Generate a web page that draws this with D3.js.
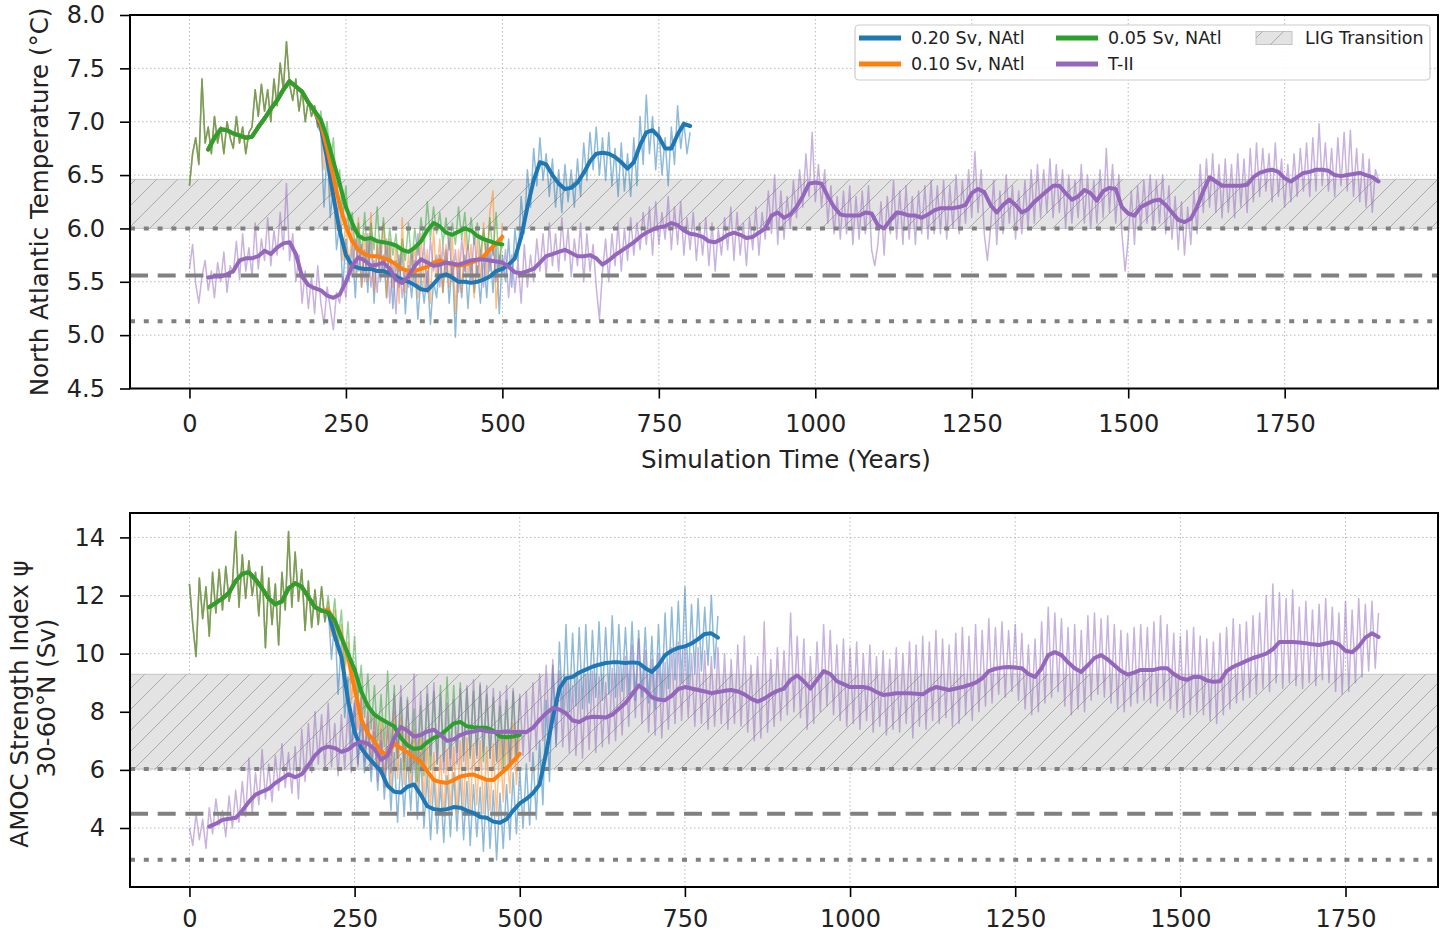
<!DOCTYPE html>
<html>
<head>
<meta charset="utf-8">
<script src="https://cdn.jsdelivr.net/npm/d3@7"></script>
<style>
  body { margin: 0; background: #fff; }
  svg { display: block; font-family: "DejaVu Sans", sans-serif; }
</style>
</head>
<body>
<svg id="chart" width="1448" height="934"></svg>
<script>
// run names and colours
const runNames = ["0.20 Sv, NAtl", "0.10 Sv, NAtl", "0.05 Sv, NAtl", "T-II"];
const runColors = ["#1f77b4", "#ff7f0e", "#2ca02c", "#9467bd"];

const xTicks = [0, 250, 500, 750, 1000, 1250, 1500, 1750];
const tempTicks = [4.5, 5.0, 5.5, 6.0, 6.5, 7.0, 7.5, 8.0];
const amocTicks = [4, 6, 8, 10, 12, 14];

// raw series: one value every 5 years; smoothed: every 10 years from year 30
const rawStep = 5, smoothStep = 10, smoothStart = 30;

// threshold lines and LIG band
const tempRefs = [6.0, 5.56, 5.13];
const amocRefs = [6.03, 4.49, 2.91];
const refDash = ["5,8.8", "18,9.7", "5,8.8"];
const tempBand = [6.0, 6.46];
const amocBand = [6.03, 9.29];

// ---- North Atlantic temperature ----
// spin-up shared by the three hosing runs (years 0-205)
const spinTempRaw = [
  6.40, 6.70, 6.85, 6.60, 7.40, 6.80, 6.95, 6.70, 7.05, 6.80,
  6.95, 6.70, 7.00, 6.85, 6.75, 7.05, 6.80, 6.95, 6.70, 6.90,
  6.95, 7.30, 7.05, 7.35, 7.10, 7.30, 7.00, 7.40, 7.15, 7.55,
  7.30, 7.75, 7.35, 7.20, 7.40, 7.10, 7.30, 7.00, 7.20, 7.05,
  7.15, 6.95];
const spinTempSmooth = [6.74, 6.85, 6.93, 6.92, 6.89, 6.87, 6.85, 6.86, 6.95, 7.03,
  7.12, 7.20, 7.30, 7.38, 7.33, 7.28, 7.18, 7.10];

const blueTempRaw = [
  6.90, 6.20, 6.75, 6.10, 6.40, 5.80, 6.05, 5.45, 5.90, 5.50,
  5.85, 5.35, 5.90, 5.45, 5.80, 5.40, 5.95, 5.30, 5.85, 5.50,
  5.75, 5.35, 5.85, 5.25, 5.70, 5.45, 5.80, 5.20, 5.65, 5.35,
  5.70, 5.15, 5.55, 5.30, 5.60, 5.10, 5.50, 5.35, 5.75, 5.40,
  5.80, 5.30, 5.70, 4.98, 5.65, 5.35, 5.75, 5.25, 5.70, 5.40,
  5.65, 5.30, 5.75, 5.35, 5.80, 5.40, 5.85, 5.20, 5.75, 5.50,
  5.90, 5.45, 6.00, 5.70, 6.30, 5.95, 6.55, 6.20, 6.75, 6.40,
  6.85, 6.45, 6.70, 6.30, 6.65, 6.20, 6.55, 6.15, 6.60, 6.25,
  6.55, 6.20, 6.65, 6.30, 6.80, 6.45, 6.90, 6.55, 6.95, 6.50,
  6.85, 6.45, 6.90, 6.40, 6.75, 6.30, 6.80, 6.35, 6.70, 6.30,
  6.85, 6.40, 7.05, 6.60, 7.25, 6.70, 7.05, 6.55, 6.95, 6.50,
  6.85, 6.40, 6.95, 6.60, 7.15, 6.75, 7.00, 6.70, 6.90];
const blueTempSmooth = [
  6.95, 6.65, 6.30, 5.98, 5.75, 5.65, 5.63, 5.62, 5.62, 5.60,
  5.60, 5.58, 5.55, 5.52, 5.50, 5.47, 5.43, 5.42, 5.48, 5.55,
  5.57, 5.54, 5.50, 5.50, 5.49, 5.50, 5.52, 5.55, 5.60, 5.62,
  5.66, 5.72, 5.92, 6.20, 6.45, 6.62, 6.60, 6.50, 6.42, 6.37,
  6.38, 6.43, 6.52, 6.63, 6.70, 6.71, 6.70, 6.67, 6.62, 6.56,
  6.62, 6.78, 6.90, 6.92, 6.86, 6.75, 6.75, 6.88, 6.98, 6.96];

const orangeTempRaw = [
  6.95, 6.55, 6.85, 6.30, 6.60, 6.00, 6.30, 5.70, 6.10, 5.60,
  6.05, 5.55, 6.10, 5.45, 5.95, 5.50, 6.15, 5.40, 5.90, 5.55,
  6.05, 5.35, 5.90, 5.45, 5.85, 5.30, 6.10, 5.40, 5.75, 5.50,
  5.85, 5.35, 5.95, 5.45, 5.80, 5.30, 6.00, 5.50, 5.90, 5.40,
  5.85, 5.45, 5.95, 5.20, 5.80, 5.40, 6.00, 5.55, 5.85, 5.35,
  5.90, 5.50, 6.05, 5.55, 6.15, 6.35, 5.25, 5.65, 6.05];
const orangeTempSmooth = [
  6.98, 6.75, 6.48, 6.22, 6.02, 5.88, 5.80, 5.76, 5.74, 5.74,
  5.72, 5.70, 5.66, 5.62, 5.60, 5.60, 5.62, 5.64, 5.68, 5.70,
  5.68, 5.66, 5.65, 5.66, 5.68, 5.70, 5.74, 5.80, 5.86, 5.92];

const greenTempRaw = [
  7.10, 6.80, 7.00, 6.60, 6.85, 6.35, 6.55, 6.10, 6.40, 5.95,
  6.15, 5.80, 6.05, 5.75, 6.15, 5.70, 6.05, 5.80, 6.20, 5.75,
  6.10, 5.70, 6.00, 5.75, 5.95, 5.60, 5.90, 5.70, 6.05, 5.65,
  6.00, 5.75, 6.10, 5.85, 6.25, 5.90, 6.20, 5.95, 6.15, 5.85,
  6.10, 5.80, 6.05, 5.85, 6.20, 5.90, 6.15, 5.80, 6.10, 5.85,
  6.05, 5.75, 6.00, 5.70, 6.10, 5.75, 6.15, 5.60, 5.95];
const greenTempSmooth = [
  7.02, 6.85, 6.63, 6.42, 6.20, 6.05, 5.93, 5.90, 5.91, 5.88,
  5.87, 5.86, 5.84, 5.80, 5.78, 5.82, 5.88, 5.98, 6.05, 6.02,
  5.96, 5.94, 5.97, 6.00, 5.98, 5.93, 5.90, 5.88, 5.86, 5.85];

// T-II run (years 0-1900)
const tiiTempRaw = [
  5.62, 5.85, 5.48, 5.30, 5.55, 5.70, 5.42, 5.60, 5.35, 5.68,
  5.50, 5.78, 5.40, 5.65, 5.58, 5.88, 5.52, 5.95, 5.60, 5.82,
  5.55, 6.05, 5.62, 5.90, 5.70, 6.10, 5.65, 5.98, 5.75, 6.15,
  5.80, 6.42, 5.70, 5.95, 5.50, 5.75, 5.30, 5.60, 5.25, 5.55,
  5.20, 5.65, 5.30, 5.10, 5.45, 5.25, 5.05, 5.40, 5.30, 5.55,
  5.35, 5.75, 5.55, 5.90, 5.60, 5.85, 5.50, 5.95, 5.45, 5.70,
  5.40, 5.85, 5.55, 5.90, 5.30, 5.65, 5.20, 5.75, 5.35, 5.60,
  5.45, 5.80, 5.50, 5.95, 5.55, 5.85, 5.40, 5.90, 5.60, 5.75,
  5.45, 5.85, 5.55, 5.95, 5.50, 5.80, 5.40, 5.90, 5.60, 5.85,
  5.50, 5.95, 5.55, 5.80, 5.45, 5.90, 5.60, 5.85, 5.50, 5.75,
  5.55, 5.80, 5.35, 5.75, 5.40, 5.70, 5.30, 5.85, 5.45, 5.75,
  5.50, 5.90, 5.60, 5.95, 5.55, 6.05, 5.65, 5.95, 5.60, 6.10,
  5.70, 6.00, 5.55, 5.90, 5.65, 6.05, 5.50, 5.95, 5.60, 5.85,
  5.45, 5.15, 5.60, 5.90, 5.50, 5.95, 5.65, 6.05, 5.60, 6.00,
  5.70, 6.10, 5.75, 6.05, 5.80, 6.15, 5.85, 6.20, 5.75, 6.25,
  5.85, 6.15, 5.90, 6.30, 5.80, 6.20, 5.85, 6.25, 5.75, 6.10,
  5.80, 6.15, 5.70, 6.05, 5.75, 6.10, 5.65, 6.05, 5.60, 6.00,
  5.75, 6.10, 5.80, 6.20, 5.70, 6.15, 5.75, 6.05, 5.65, 6.10,
  5.80, 6.20, 5.75, 6.15, 5.90, 6.35, 5.95, 6.50, 5.85, 6.35,
  5.90, 6.30, 6.00, 6.45, 6.10, 6.55, 6.20, 6.70, 6.30, 6.90,
  6.25, 6.60, 6.20, 6.55, 6.05, 6.40, 5.95, 6.30, 5.90, 6.35,
  5.95, 6.40, 5.85, 6.30, 5.90, 6.35, 5.95, 6.40, 5.80, 5.65,
  5.85, 6.25, 5.75, 6.30, 5.95, 6.45, 5.90, 6.35, 5.85, 6.40,
  5.90, 6.30, 5.85, 6.35, 5.95, 6.40, 5.90, 6.45, 5.95, 6.40,
  5.95, 6.45, 5.90, 6.40, 6.00, 6.50, 5.95, 6.45, 6.05, 6.55,
  6.10, 6.72, 6.15, 6.55, 5.95, 5.70, 6.00, 6.45, 5.85, 6.35,
  5.95, 6.50, 6.05, 6.40, 5.90, 6.35, 5.95, 6.45, 6.00, 6.55,
  6.05, 6.60, 6.10, 6.55, 6.15, 6.65, 6.10, 6.60, 6.15, 6.55,
  6.00, 6.50, 6.05, 6.45, 6.10, 6.60, 6.05, 6.50, 6.00, 6.45,
  6.05, 6.55, 6.10, 6.75, 6.15, 6.60, 6.05, 6.50, 5.95, 5.60,
  5.90, 6.35, 5.85, 6.40, 6.00, 6.45, 6.05, 6.50, 6.00, 6.45,
  6.05, 6.50, 5.95, 6.40, 5.90, 6.30, 5.80, 6.25, 5.75, 6.20,
  5.85, 6.35, 5.95, 6.60, 6.15, 6.65, 6.20, 6.70, 6.15, 6.60,
  6.10, 6.65, 6.15, 6.60, 6.10, 6.70, 6.20, 6.65, 6.15, 6.75,
  6.25, 6.80, 6.30, 6.75, 6.35, 6.70, 6.25, 6.80, 6.30, 6.65,
  6.20, 6.60, 6.25, 6.70, 6.30, 6.75, 6.35, 6.80, 6.30, 6.85,
  6.35, 6.98, 6.40, 6.80, 6.35, 6.75, 6.30, 6.85, 6.40, 6.90,
  6.35, 6.92, 6.30, 6.75, 6.25, 6.70, 6.20, 6.65, 6.15, 6.55,
  6.45];
const tiiTempSmooth = [
  5.54, 5.55, 5.55, 5.57, 5.60, 5.70, 5.72, 5.72, 5.74, 5.79,
  5.76, 5.82, 5.86, 5.87, 5.76, 5.55, 5.47, 5.44, 5.42, 5.37,
  5.35, 5.38, 5.50, 5.65, 5.73, 5.70, 5.65, 5.66, 5.68, 5.62,
  5.52, 5.49, 5.55, 5.65, 5.71, 5.68, 5.65, 5.66, 5.68, 5.67,
  5.66, 5.68, 5.70, 5.71, 5.71, 5.70, 5.69, 5.68, 5.64, 5.59,
  5.58, 5.60, 5.62, 5.68, 5.74, 5.76, 5.78, 5.80, 5.77, 5.74,
  5.74, 5.75, 5.72, 5.66, 5.70, 5.75, 5.79, 5.83, 5.87, 5.92,
  5.96, 5.99, 6.01, 6.02, 6.05, 6.03, 5.98, 5.95, 5.94, 5.92,
  5.88, 5.87, 5.90, 5.94, 5.96, 5.94, 5.91, 5.92, 5.96, 6.00,
  6.12, 6.15, 6.10, 6.13, 6.20, 6.30, 6.42, 6.43, 6.42, 6.30,
  6.20, 6.13, 6.12, 6.12, 6.12, 6.15, 6.14, 6.03, 6.00, 6.08,
  6.15, 6.14, 6.12, 6.12, 6.10, 6.13, 6.17, 6.19, 6.19, 6.19,
  6.20, 6.22, 6.33, 6.37, 6.34, 6.22, 6.15, 6.22, 6.27, 6.22,
  6.15, 6.18, 6.25, 6.30, 6.35, 6.40, 6.40, 6.33, 6.27, 6.30,
  6.36, 6.33, 6.26, 6.35, 6.38, 6.37, 6.20, 6.14, 6.12, 6.20,
  6.23, 6.26, 6.27, 6.22, 6.15, 6.08, 6.06, 6.09, 6.20, 6.35,
  6.48, 6.44, 6.40, 6.40, 6.40, 6.40, 6.41, 6.48, 6.52, 6.54,
  6.55, 6.53, 6.47, 6.44, 6.48, 6.52, 6.53, 6.55, 6.55, 6.54,
  6.50, 6.49, 6.50, 6.51, 6.52, 6.50, 6.48, 6.44];

// ---- AMOC strength index ----
const spinAmocRaw = [
  12.4, 11.0, 9.9, 12.6, 11.2, 12.3, 10.6, 12.8, 11.4, 12.9,
  11.5, 13.0, 11.8, 12.4, 14.2, 11.6, 13.4, 11.9, 13.2, 12.0,
  12.8, 11.3, 13.0, 10.2, 12.6, 11.0, 12.4, 10.3, 12.8, 11.5,
  14.2, 11.6, 13.5, 11.8, 12.9, 10.8, 12.5, 10.9, 12.2, 11.0,
  12.3, 11.1];
const spinAmocSmooth = [11.60, 11.75, 11.90, 12.10, 12.50, 12.75, 12.80, 12.55, 12.25, 11.90,
  11.70, 11.80, 12.25, 12.42, 12.30, 11.95, 11.60, 11.48];

const blueAmocRaw = [
  11.6, 9.8, 11.2, 8.6, 10.4, 7.8, 9.2, 6.7, 8.3, 6.2,
  7.8, 5.9, 7.6, 5.6, 7.3, 5.3, 7.0, 5.0, 6.8, 4.6,
  6.6, 4.2, 6.4, 4.4, 6.5, 4.6, 6.8, 4.3, 6.6, 4.0,
  5.9, 3.6, 5.7, 3.8, 5.5, 3.5, 5.8, 3.7, 5.9, 3.9,
  5.8, 3.6, 5.6, 3.4, 5.5, 3.7, 5.4, 3.2, 5.6, 3.3,
  5.3, 2.9, 5.2, 3.3, 5.5, 3.6, 5.9, 3.8, 6.0, 4.0,
  6.2, 4.1, 6.6, 4.3, 7.0, 4.8, 8.4, 5.6, 9.6, 6.8,
  10.4, 7.9, 11.0, 8.0, 10.7, 8.2, 10.9, 8.1, 11.0, 8.3,
  10.8, 8.5, 11.1, 8.4, 10.9, 8.6, 11.3, 8.5, 11.0, 8.7,
  10.9, 8.6, 11.1, 8.4, 10.8, 8.5, 10.9, 8.3, 10.6, 8.1,
  11.0, 8.4, 11.4, 8.8, 11.6, 9.1, 11.8, 9.0, 12.3, 8.9,
  11.7, 9.3, 11.9, 9.4, 11.6, 9.6, 12.0, 9.5, 11.3];
const blueAmocSmooth = [
  11.45, 10.60, 9.90, 8.40, 7.30, 6.75, 6.45, 6.20, 5.95, 5.45,
  5.25, 5.22, 5.42, 5.50, 5.15, 4.75, 4.65, 4.62, 4.65, 4.72,
  4.70, 4.60, 4.52, 4.38, 4.35, 4.22, 4.18, 4.30, 4.60, 4.85,
  5.00, 5.20, 5.50, 6.60, 7.80, 8.80, 9.15, 9.20, 9.35, 9.45,
  9.55, 9.62, 9.68, 9.70, 9.70, 9.68, 9.70, 9.68, 9.50, 9.37,
  9.60, 9.95, 10.10, 10.20, 10.25, 10.35, 10.50, 10.68, 10.70, 10.55];

const orangeAmocRaw = [
  11.8, 10.6, 11.5, 10.0, 11.0, 9.2, 10.4, 8.3, 9.6, 7.4,
  8.6, 6.5, 8.0, 6.2, 7.9, 6.0, 7.8, 5.6, 7.6, 5.4,
  8.0, 5.7, 7.8, 5.5, 7.5, 5.4, 7.4, 5.2, 7.3, 5.0,
  6.9, 4.8, 6.6, 4.5, 6.5, 4.4, 6.7, 4.6, 6.8, 4.5,
  7.0, 4.7, 7.1, 4.6, 6.9, 4.8, 7.0, 4.5, 6.8, 4.6,
  6.9, 4.4, 7.2, 4.9, 7.3, 5.2, 7.6, 5.5, 7.4];
const orangeAmocSmooth = [
  11.50, 11.10, 10.60, 9.90, 8.80, 7.75, 7.25, 7.00, 6.60, 6.55,
  6.90, 6.75, 6.60, 6.42, 6.30, 5.95, 5.65, 5.58, 5.55, 5.65,
  5.77, 5.82, 5.84, 5.75, 5.66, 5.65, 5.85, 6.05, 6.30, 6.55];

const greenAmocRaw = [
  12.0, 10.8, 11.9, 10.4, 11.5, 9.6, 11.1, 9.0, 10.6, 8.4,
  9.6, 7.8, 9.3, 7.4, 8.9, 7.0, 8.6, 6.8, 9.4, 6.5,
  8.9, 6.4, 8.5, 6.0, 8.4, 5.9, 8.1, 5.6, 8.2, 5.8,
  8.6, 6.0, 8.7, 6.2, 8.9, 6.3, 9.2, 6.4, 8.9, 6.6,
  9.0, 6.5, 8.8, 6.4, 8.7, 6.5, 8.9, 6.3, 8.6, 6.4,
  8.5, 6.3, 8.2, 6.1, 8.4, 6.2, 8.7, 6.3, 8.5];
const greenAmocSmooth = [
  11.42, 11.15, 10.55, 10.00, 9.45, 8.70, 8.20, 7.90, 7.75, 7.62,
  7.50, 7.10, 6.85, 6.72, 6.75, 6.95, 7.10, 7.20, 7.40, 7.60,
  7.65, 7.50, 7.47, 7.45, 7.45, 7.35, 7.15, 7.12, 7.15, 7.20];

const tiiAmocRaw = [
  4.0, 3.4, 4.5, 3.6, 4.3, 3.3, 4.7, 3.8, 5.0, 4.1,
  4.6, 3.7, 5.1, 4.0, 5.3, 4.2, 5.6, 4.4, 6.4, 4.5,
  5.9, 4.8, 6.7, 5.0, 6.2, 4.9, 6.5, 5.3, 6.9, 5.4,
  6.6, 5.2, 6.8, 5.0, 7.4, 5.6, 7.6, 5.9, 8.0, 6.2,
  7.9, 6.0, 8.3, 6.1, 7.6, 5.8, 7.9, 6.0, 8.2, 5.9,
  8.4, 6.1, 8.5, 6.3, 8.1, 6.0, 7.9, 5.6, 7.4, 5.4,
  7.6, 5.9, 8.6, 6.4, 8.9, 6.3, 8.5, 6.0, 9.3, 6.2,
  8.7, 6.3, 8.9, 6.5, 9.0, 6.2, 8.6, 5.9, 8.3, 6.0,
  8.4, 6.2, 8.8, 6.3, 8.9, 6.5, 9.1, 6.4, 9.0, 6.6,
  8.9, 6.4, 8.8, 6.3, 8.7, 6.5, 8.9, 6.2, 8.8, 6.4,
  8.6, 6.5, 8.7, 6.3, 9.0, 6.7, 9.3, 7.0, 9.6, 7.1,
  9.8, 6.9, 9.4, 6.8, 9.2, 6.6, 8.9, 6.5, 9.1, 6.4,
  9.3, 6.7, 9.4, 6.6, 9.2, 6.8, 9.0, 6.9, 9.5, 7.0,
  9.6, 7.2, 9.9, 7.5, 10.3, 7.8, 10.5, 7.6, 10.1, 7.3,
  9.8, 7.2, 10.0, 7.1, 9.7, 7.4, 10.2, 7.6, 10.4, 7.7,
  10.3, 7.8, 10.0, 7.5, 10.2, 7.6, 10.1, 7.4, 9.9, 7.5,
  10.2, 7.6, 10.0, 7.4, 9.8, 7.6, 10.3, 7.5, 10.6, 7.3,
  9.6, 7.0, 9.9, 7.1, 11.1, 7.3, 9.8, 7.5, 10.2, 7.7,
  10.1, 7.9, 11.4, 8.0, 10.6, 7.8, 10.5, 7.4, 9.9, 7.6,
  10.4, 8.0, 11.0, 8.2, 10.8, 7.9, 10.3, 7.7, 10.5, 7.5,
  10.2, 7.6, 10.4, 7.4, 10.0, 7.7, 10.3, 7.3, 9.9, 7.5,
  10.1, 7.2, 9.8, 7.4, 10.2, 7.3, 10.0, 7.6, 10.4, 7.1,
  10.3, 7.5, 10.6, 7.4, 10.4, 7.7, 10.8, 7.6, 10.5, 7.8,
  10.3, 7.5, 10.7, 7.6, 10.9, 7.9, 10.6, 7.7, 11.0, 8.0,
  10.8, 8.2, 11.2, 8.3, 10.9, 8.6, 11.1, 8.5, 10.8, 8.7,
  11.0, 8.4, 10.7, 8.1, 10.3, 7.9, 10.5, 8.0, 11.1, 8.3,
  11.6, 8.5, 11.4, 8.7, 11.2, 8.2, 10.9, 7.9, 11.0, 8.1,
  10.8, 8.0, 11.3, 8.4, 11.4, 8.6, 11.2, 8.5, 11.3, 8.3,
  11.0, 8.1, 10.8, 8.0, 10.7, 8.2, 10.9, 8.3, 11.0, 8.4,
  10.9, 8.3, 11.1, 8.2, 11.3, 8.4, 11.0, 8.1, 10.7, 8.0,
  10.6, 7.8, 10.8, 7.9, 10.9, 8.0, 10.6, 7.9, 10.5, 7.7,
  10.4, 7.6, 10.7, 7.9, 10.9, 8.1, 11.2, 8.3, 11.0, 8.4,
  11.1, 8.5, 11.3, 8.6, 11.4, 8.8, 12.0, 8.7, 12.4, 9.0,
  12.1, 8.8, 11.9, 9.0, 12.2, 8.9, 11.6, 8.8, 11.8, 9.0,
  11.5, 8.9, 11.7, 9.1, 11.9, 9.0, 11.6, 8.7, 11.4, 8.6,
  11.8, 8.7, 11.5, 9.0, 11.9, 9.2, 11.7, 9.4, 11.8, 9.5,
  11.4];
const tiiAmocSmooth = [
  4.05, 4.15, 4.28, 4.32, 4.35, 4.60, 4.90, 5.15, 5.25, 5.35,
  5.55, 5.70, 5.85, 5.75, 5.85, 6.15, 6.50, 6.72, 6.80, 6.75,
  6.62, 6.70, 6.88, 6.97, 6.90, 6.72, 6.35, 6.50, 7.10, 7.48,
  7.35, 7.15, 7.20, 7.32, 7.38, 7.20, 7.00, 7.05, 7.20, 7.28,
  7.32, 7.38, 7.33, 7.30, 7.30, 7.32, 7.30, 7.30, 7.30, 7.45,
  7.72, 7.95, 8.13, 8.08, 7.95, 7.70, 7.65, 7.78, 7.83, 7.82,
  7.80, 7.90, 8.10, 8.30, 8.60, 8.90, 8.75, 8.50, 8.42, 8.40,
  8.55, 8.78, 8.85, 8.80, 8.75, 8.70, 8.64, 8.68, 8.72, 8.75,
  8.70, 8.60, 8.45, 8.35, 8.45, 8.60, 8.72, 8.80, 9.10, 9.25,
  9.05, 8.80, 9.10, 9.40, 9.30, 9.05, 8.95, 8.85, 8.85, 8.85,
  8.80, 8.68, 8.58, 8.60, 8.64, 8.64, 8.64, 8.62, 8.60, 8.75,
  8.85, 8.80, 8.75, 8.80, 8.85, 8.92, 9.00, 9.15, 9.40, 9.48,
  9.52, 9.54, 9.52, 9.50, 9.30, 9.20, 9.50, 9.95, 10.05, 9.95,
  9.70, 9.50, 9.37, 9.60, 9.85, 9.95, 9.80, 9.60, 9.40, 9.28,
  9.35, 9.44, 9.44, 9.44, 9.50, 9.50, 9.30, 9.16, 9.10, 9.20,
  9.20, 9.08, 9.03, 9.05, 9.40, 9.55, 9.65, 9.75, 9.85, 9.92,
  10.00, 10.15, 10.40, 10.40, 10.40, 10.38, 10.36, 10.32, 10.30, 10.35,
  10.40, 10.32, 10.10, 10.05, 10.25, 10.55, 10.70, 10.57];

// ---- helpers to pair values with years ----
const rawPts = (vals, start) => vals.map((v, i) => [start + i * rawStep, v]);
const smoothPts = (vals, start) => vals.map((v, i) => [start + i * smoothStep, v]);
// forced runs = shared spin-up followed by the run's own part
const forced = (spinRaw, spinSm, runRaw, runSm) => ({
  raw: rawPts(spinRaw.concat(runRaw), 0),
  smooth: smoothPts(spinSm.concat(runSm), smoothStart)
});

const tempSeries = [
  forced(spinTempRaw, spinTempSmooth, blueTempRaw, blueTempSmooth),
  forced(spinTempRaw, spinTempSmooth, orangeTempRaw, orangeTempSmooth),
  forced(spinTempRaw, spinTempSmooth, greenTempRaw, greenTempSmooth),
  {raw: rawPts(tiiTempRaw, 0), smooth: smoothPts(tiiTempSmooth, smoothStart)}
];
const amocSeries = [
  forced(spinAmocRaw, spinAmocSmooth, blueAmocRaw, blueAmocSmooth),
  forced(spinAmocRaw, spinAmocSmooth, orangeAmocRaw, orangeAmocSmooth),
  forced(spinAmocRaw, spinAmocSmooth, greenAmocRaw, greenAmocSmooth),
  {raw: rawPts(tiiAmocRaw, 0), smooth: smoothPts(tiiAmocSmooth, smoothStart)}
];

const svg = d3.select("#chart");
const plotLeft = 130, plotRight = 1438;

// hatch for the LIG band
let defs = svg.append("defs");
defs.append("pattern")
    .attr("id", "hatch")
    .attr("patternUnits", "userSpaceOnUse")
    .attr("width", 21).attr("height", 21)
    .append("path")
    .attr("d", "M-5,5 L5,-5 M0,21 L21,0 M16,26 L26,16")
    .attr("stroke", "#a4a4a4")
    .attr("stroke-width", 0.9);

function drawPanel(p) {
    let x = d3.scaleLinear().domain(p.xDomain).range([plotLeft, plotRight]);
    let y = d3.scaleLinear().domain(p.yDomain).range([p.bottom, p.top]);

    defs.append("clipPath").attr("id", p.id + "-clip")
        .append("rect")
        .attr("x", plotLeft).attr("y", p.top)
        .attr("width", plotRight - plotLeft).attr("height", p.bottom - p.top);

    let g = svg.append("g");
    let plot = g.append("g").attr("clip-path", "url(#" + p.id + "-clip)");

    // dotted grid
    plot.append("g").selectAll("line")
        .data(xTicks)
        .enter().append("line")
        .attr("x1", d => x(d)).attr("x2", d => x(d))
        .attr("y1", p.top).attr("y2", p.bottom)
        .attr("stroke", "#b8b8b8").attr("stroke-width", 1)
        .attr("stroke-dasharray", "1.5,2.5");
    plot.append("g").selectAll("line")
        .data(p.yTicks)
        .enter().append("line")
        .attr("x1", plotLeft).attr("x2", plotRight)
        .attr("y1", d => y(d)).attr("y2", d => y(d))
        .attr("stroke", "#b8b8b8").attr("stroke-width", 1)
        .attr("stroke-dasharray", "1.5,2.5");

    // LIG transition band
    let bandY = y(p.band[1]), bandH = y(p.band[0]) - y(p.band[1]);
    plot.append("rect")
        .attr("x", plotLeft).attr("y", bandY)
        .attr("width", plotRight - plotLeft).attr("height", bandH)
        .attr("fill", "#e3e3e3")
        .attr("stroke", "#c4c4c4").attr("stroke-width", 1);
    plot.append("rect")
        .attr("x", plotLeft).attr("y", bandY)
        .attr("width", plotRight - plotLeft).attr("height", bandH)
        .attr("fill", "url(#hatch)");

    let line = d3.line().x(d => x(d[0])).y(d => y(d[1]));

    // annual (noisy) series
    p.series.forEach((s, i) => {
        plot.append("path")
            .datum(s.raw)
            .attr("d", line)
            .attr("fill", "none")
            .attr("stroke", runColors[i])
            .attr("stroke-width", 1.5)
            .attr("stroke-opacity", 0.5)
            .attr("stroke-linejoin", "round");
    });

    // threshold lines
    plot.append("g").selectAll("line")
        .data(p.refs)
        .enter().append("line")
        .attr("x1", plotLeft).attr("x2", plotRight)
        .attr("y1", d => y(d)).attr("y2", d => y(d))
        .attr("stroke", "#808080")
        .attr("stroke-width", 4)
        .attr("stroke-dasharray", (d, i) => refDash[i]);

    // smoothed series
    p.series.forEach((s, i) => {
        plot.append("path")
            .datum(s.smooth)
            .attr("d", line)
            .attr("fill", "none")
            .attr("stroke", runColors[i])
            .attr("stroke-width", 4)
            .attr("stroke-linejoin", "round")
            .attr("stroke-linecap", "round");
    });

    // axes
    let xAxis = g.append("g")
        .attr("transform", "translate(0," + p.bottom + ")")
        .call(d3.axisBottom(x).tickValues(xTicks).tickFormat(d3.format("d")).tickSize(10).tickPadding(p.xPad));
    let yAxis = g.append("g")
        .attr("transform", "translate(" + plotLeft + ",0)")
        .call(d3.axisLeft(y).tickValues(p.yTicks).tickFormat(d3.format(p.yFormat)).tickSize(10).tickPadding(15));
    [xAxis, yAxis].forEach(a => {
        a.select(".domain").remove();
        a.attr("font-family", "DejaVu Sans, sans-serif").attr("font-size", 24);
        a.selectAll("line").attr("stroke", "#000").attr("stroke-width", 1.6);
        a.selectAll("text").attr("fill", "#222");
    });

    // frame
    g.append("rect")
        .attr("x", plotLeft).attr("y", p.top)
        .attr("width", plotRight - plotLeft).attr("height", p.bottom - p.top)
        .attr("fill", "none").attr("stroke", "#000").attr("stroke-width", 2);

    return g;
}

drawPanel({
    id: "temp", top: 15, bottom: 388.5, xPad: 16,
    xDomain: [-95, 1995], yDomain: [4.5, 8.0],
    yTicks: tempTicks, yFormat: ".1f",
    band: tempBand, refs: tempRefs, series: tempSeries
});

drawPanel({
    id: "amoc", top: 513, bottom: 887, xPad: 13,
    xDomain: [-90, 1890], yDomain: [1.97, 14.84],
    yTicks: amocTicks, yFormat: "d",
    band: amocBand, refs: amocRefs, series: amocSeries
});

// axis titles
svg.append("text")
    .attr("transform", "translate(48,202) rotate(-90)")
    .attr("text-anchor", "middle")
    .attr("font-size", 24.5).attr("fill", "#222")
    .text("North Atlantic Temperature (°C)");
svg.append("text")
    .attr("x", 786).attr("y", 468)
    .attr("text-anchor", "middle")
    .attr("font-size", 24.5).attr("fill", "#222")
    .text("Simulation Time (Years)");
svg.append("text")
    .attr("transform", "translate(28,704) rotate(-90)")
    .attr("text-anchor", "middle")
    .attr("font-size", 24.5).attr("fill", "#222")
    .text("AMOC Strength Index ψ");
svg.append("text")
    .attr("transform", "translate(55,698) rotate(-90)")
    .attr("text-anchor", "middle")
    .attr("font-size", 24.5).attr("fill", "#222")
    .text("30-60°N (Sv)");

// legend
let legend = svg.append("g").attr("font-size", 17.5).attr("fill", "#222");
legend.append("rect")
    .attr("x", 855).attr("y", 25)
    .attr("width", 575).attr("height", 55)
    .attr("rx", 4)
    .attr("fill", "#fff").attr("fill-opacity", 0.85)
    .attr("stroke", "#cccccc").attr("stroke-width", 1.2);

let legendPos = [[859, 38], [859, 64], [1056, 38], [1056, 64]];
let items = legend.selectAll("g.item")
    .data(runNames)
    .enter().append("g")
    .attr("class", "item")
    .attr("transform", (d, i) => "translate(" + legendPos[i][0] + "," + legendPos[i][1] + ")");
items.append("line")
    .attr("x1", 0).attr("x2", 42)
    .attr("stroke", (d, i) => runColors[i])
    .attr("stroke-width", 5);
items.append("text")
    .attr("x", 52).attr("y", 6.3)
    .text(d => d);

let lig = legend.append("g").attr("transform", "translate(1256,38)");
lig.append("rect").attr("x", 0).attr("y", -6.5).attr("width", 36).attr("height", 13)
    .attr("fill", "#e3e3e3").attr("stroke", "#c4c4c4");
lig.append("rect").attr("x", 0).attr("y", -6.5).attr("width", 36).attr("height", 13)
    .attr("fill", "url(#hatch)");
lig.append("text").attr("x", 49).attr("y", 6.3).text("LIG Transition");
</script>
</body>
</html>
